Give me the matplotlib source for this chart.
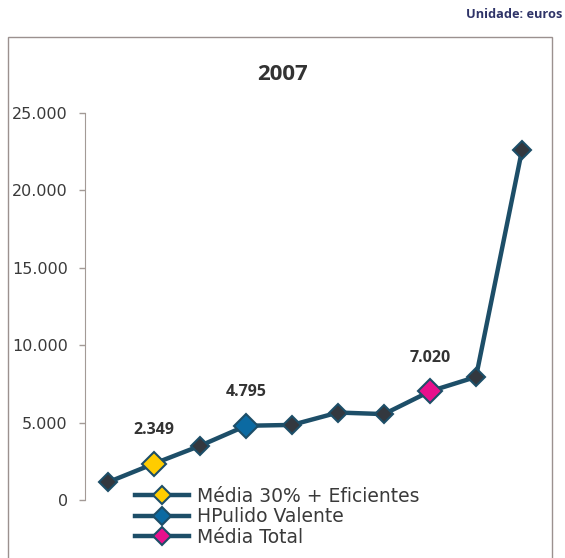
import matplotlib
matplotlib.use("Agg")
import matplotlib.pyplot as plt
from matplotlib.patches import Rectangle
from matplotlib.ticker import FuncFormatter

# custo médio por grupo, 2007 (euros)
groups = list(range(1, 11))
values = [1150, 2349, 3500, 4795, 4850, 5650, 5550, 7020, 7950, 22600]

# pontos destacados: (índice do grupo, legenda, cor)
highlights = [
    (1, "Média 30% + Eficientes", "#ffcc00"),
    (3, "HPulido Valente", "#0b6aa2"),
    (7, "Média Total", "#e8108c"),
]

title = "2007"
unit_note = "Unidade: euros"
yticks = [0, 5000, 10000, 15000, 20000, 25000]

line_col = "#1d4e68"
dot_col = "#33383f"
axis_col = "#a39a96"
text_col = "#3a3a3a"
bold_font = "Open Sans"

W, H = 565, 558
fig = plt.figure(figsize=(W / 100, H / 100), dpi=100)

# moldura do gráfico
fig.patches.append(Rectangle((7.5 / W, -0.02), (552 - 7.5) / W, 1 - 37 / H + 0.02,
                             transform=fig.transFigure, fill=False,
                             edgecolor="#9b918f", linewidth=1.0))

ax = fig.add_axes([85 / W, 58 / H, (545 - 85) / W, 387 / H])
x = list(range(len(groups)))

ax.plot(x, values, color=line_col, lw=3.2, marker="D", markersize=9,
        markerfacecolor=dot_col, markeredgecolor=line_col, markeredgewidth=1.5,
        clip_on=False, zorder=3)

for i, label, col in highlights:
    ax.plot([x[i]], [values[i]], color=line_col, lw=3.2, marker="D", markersize=12,
            markerfacecolor=col, markeredgecolor=line_col, markeredgewidth=1.5,
            label=label, clip_on=False, zorder=4)
    ax.annotate(f"{values[i]:,}".replace(",", "."), (x[i], values[i]),
                xytext=(0, 24), textcoords="offset points", ha="center", va="center",
                fontsize=11.5, fontweight="bold", family=bold_font, color="#333333")

ax.set_xlim(-0.5, len(groups) - 0.5)
ax.set_ylim(0, 25000)
ax.set_yticks(yticks)
ax.yaxis.set_major_formatter(FuncFormatter(lambda v, p: f"{int(v):,}".replace(",", ".")))
ax.tick_params(axis="y", direction="out", length=4.5, width=1, color=axis_col,
               labelcolor=text_col, labelsize=11.5, pad=8)
ax.get_xaxis().set_visible(False)
for s in ["top", "right", "bottom"]:
    ax.spines[s].set_visible(False)
ax.spines["left"].set_color(axis_col)
ax.patch.set_alpha(0)

fig.text(283 / W, 1 - 75 / H, title, ha="center", va="center",
         fontsize=16, fontweight="bold", family=bold_font, color="#333333")
fig.text(562 / W, 1 - 14 / H, unit_note, ha="right", va="center",
         fontsize=9.2, fontweight="bold", family=bold_font, color="#2f3468")

ax.legend(loc="upper left", bbox_to_anchor=(135 / W, 1 - 487 / H),
          bbox_transform=fig.transFigure, frameon=False, borderpad=0,
          borderaxespad=0, fontsize=13.5, labelspacing=0.08, handlelength=2.9,
          handletextpad=0.4, markerscale=0.8, labelcolor=text_col)

fig.savefig("out.png", dpi=100)
